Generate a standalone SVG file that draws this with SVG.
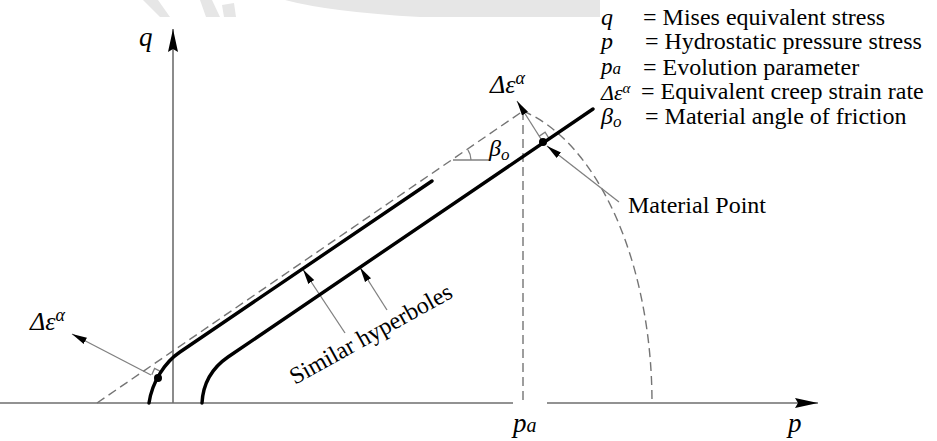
<svg xmlns="http://www.w3.org/2000/svg" width="937" height="441" viewBox="0 0 937 441">
<style>
.t{font-family:"Liberation Serif","Times New Roman",serif;fill:#000}
.rm{font-size:24px}
.it{font-style:italic}
.axis{stroke:#6e6e6e;stroke-width:1.6;fill:none}
.dash{stroke:#747474;stroke-width:1.4;fill:none;stroke-dasharray:9,5}
.thick{stroke:#000;stroke-width:3.4;fill:none;stroke-linecap:round}
.thin{stroke:#808080;stroke-width:1.3;fill:none}
.wm{fill:#e6e6e6}
</style>
<defs>
<marker id="ah" markerUnits="userSpaceOnUse" markerWidth="16" markerHeight="9" refX="15" refY="4.5" orient="auto">
<path d="M0,1 L15,4.5 L0,8 z" fill="#000"/>
</marker>
<marker id="axh" markerUnits="userSpaceOnUse" markerWidth="24" markerHeight="11" refX="23" refY="5.5" orient="auto">
<path d="M0,0.5 L23,5.5 L0,10.5 L3,5.5 z" fill="#000"/>
</marker>
</defs>
<rect width="937" height="441" fill="#fff"/>
<g id="watermark">
<path class="wm" d="M143,0 L158,0 L170,17 L160,17 Z"/>
<path class="wm" d="M200,0 L212,0 L220,17 L206,17 Z M222,5 L234,3 L236,17 L224,17 Z"/>
<path class="wm" d="M285,0 L600,0 L600,17 L420,17 Q330,12 285,0 Z"/>
</g>
<g id="axes">
<line class="axis" x1="173" y1="403" x2="173" y2="29" marker-end="url(#axh)"/>
<line class="axis" x1="0" y1="403" x2="513" y2="403"/>
<line class="axis" x1="547" y1="403" x2="818" y2="403" marker-end="url(#axh)"/>
<text class="t it" x="139" y="46" font-size="27">q</text>
<text class="t it" x="788" y="432" font-size="27">p</text>
<text id="pa-label" class="t it" x="513" y="432" font-size="27">p<tspan font-size="20">a</tspan></text>
</g>
<g id="connectors">
<line class="dash" x1="97" y1="403" x2="523" y2="111"/>
<line class="dash" x1="523" y1="111" x2="523" y2="403"/>
<path class="dash" d="M523,111 A167,300 0 0 1 652,403"/>
<line class="thin" x1="453" y1="160" x2="490" y2="160"/>
<path class="thin" d="M467.9,149.9 A18,18 0 0 1 471,160"/>
<line class="thin" x1="151" y1="375" x2="72" y2="334" marker-end="url(#ah)"/>
<path class="thin" d="M151.8,374.8 L154.6,368.4 L160.9,371.6"/>
<line class="thin" x1="541" y1="139" x2="517" y2="101" marker-end="url(#ah)"/>
<path class="thin" d="M539.3,136.1 L545.1,132.2 L548.8,138.1"/>
<line class="thin" x1="619" y1="202" x2="547" y2="146" marker-end="url(#ah)"/>
<line class="thin" x1="345" y1="333" x2="303" y2="269.5" marker-end="url(#ah)"/>
<line class="thin" x1="387" y1="310" x2="360" y2="267.5" marker-end="url(#ah)"/>
</g>
<g id="hyperbola-inner">
<path class="thick" d="M432,181 L180,352 C165,362 152,382 149,403"/>
<circle cx="158" cy="378" r="4" fill="#000"/>
</g>
<g id="hyperbola-outer">
<path class="thick" d="M593,109 L228,357 C212,368 203,384 202,403"/>
<circle cx="543" cy="142" r="4" fill="#000"/>
</g>
<g id="labels">
<text id="de-top" class="t it" x="490" y="93" font-size="26">Δε<tspan dy="-9" font-size="18">α</tspan></text>
<text id="de-left" class="t it" x="30" y="330" font-size="26">Δε<tspan dy="-9" font-size="18">α</tspan></text>
<text id="beta" class="t it" x="489" y="156" font-size="24">β<tspan dy="4" font-size="17">o</tspan></text>
<text class="t rm" x="628" y="213">Material Point</text>
<text class="t rm" x="295" y="385" transform="rotate(-29 295 385)">Similar hyperboles</text>
</g>
<g id="legend">
<text class="t rm it" x="601" y="24.5">q</text>
<text class="t rm" x="643" y="24.5">= Mises equivalent stress</text>
<text class="t rm it" x="601" y="49">p</text>
<text class="t rm" x="645" y="49">= Hydrostatic pressure stress</text>
<text class="t it" x="601" y="74" font-size="23">p<tspan font-size="17">a</tspan></text>
<text class="t rm" x="643" y="74.5">= Evolution parameter</text>
<text class="t it" x="601" y="99.5" font-size="22">Δε<tspan dy="-7" font-size="15">α</tspan></text>
<text class="t rm" x="641" y="99">= Equivalent creep strain rate</text>
<text class="t rm it" x="601" y="124">β<tspan dy="3" font-size="17">o</tspan></text>
<text class="t rm" x="645" y="124">= Material angle of friction</text>
</g>
</svg>
